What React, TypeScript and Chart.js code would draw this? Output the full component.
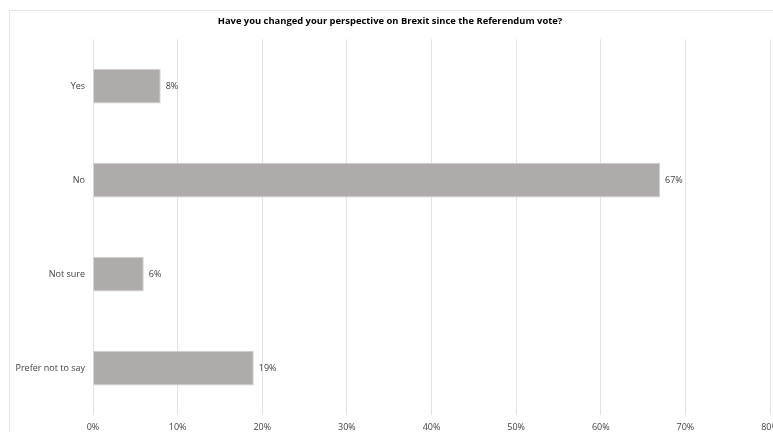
import React, { useEffect, useRef } from "react";
import { Chart, registerables } from "chart.js";

Chart.register(...registerables);

const TITLE = "Have you changed your perspective on Brexit since the Referendum vote?";
const categories = ["Yes", "No", "Not sure", "Prefer not to say"];
const values = [8, 67, 6, 19];
const xMin = 0;
const xMax = 80;
const xStep = 10;

const FONT = "'Open Sans', 'Liberation Sans', sans-serif";

const barLabels = {
  id: "barLabels",
  afterDatasetsDraw(chart: any) {
    const ctx = chart.ctx;
    const meta = chart.getDatasetMeta(0);
    ctx.save();
    ctx.font = `9px ${FONT}`;
    ctx.fillStyle = "#404040";
    ctx.textAlign = "left";
    ctx.textBaseline = "middle";
    meta.data.forEach((bar: any, i: number) => {
      ctx.fillText(values[i] + "%", bar.x + 5, bar.y);
    });
    ctx.restore();
  },
};

export default function App() {
  const ref = useRef<HTMLCanvasElement | null>(null);
  useEffect(() => {
    if (!ref.current) return;
    const chart = new Chart(ref.current, {
      type: "bar",
      data: {
        labels: categories,
        datasets: [
          {
            data: values,
            backgroundColor: "#afabab",
            borderColor: "#d2cfcf",
            borderWidth: 1,
            barPercentage: 0.37,
            categoryPercentage: 1,
          },
        ],
      },
      options: {
        indexAxis: "y",
        animation: false,
        responsive: false,
        maintainAspectRatio: false,
        layout: { padding: { left: 0, right: 4, top: 0, bottom: 0 } },
        plugins: {
          legend: { display: false },
          tooltip: { enabled: false },
          title: {
            display: true,
            text: TITLE,
            color: "#000000",
            font: { family: FONT, size: 9.4, weight: "bold" },
            padding: { top: 5, bottom: 12 },
          },
        },
        scales: {
          x: {
            min: xMin,
            max: xMax,
            ticks: {
              stepSize: xStep,
              color: "#404040",
              font: { family: FONT, size: 9 },
              padding: 7,
              maxRotation: 0,
              callback: (v: any) => v + "%",
            },
            grid: { color: "#e2e2e2", drawTicks: false },
            border: { display: false },
            afterFit: (scale: any) => {
              scale.height = 36;
              scale.paddingLeft = 0;
              scale.paddingRight = 0;
            },
          },
          y: {
            ticks: {
              color: "#404040",
              font: { family: FONT, size: 9 },
              padding: 8,
            },
            grid: { display: false, drawTicks: false },
            border: { display: false },
            afterFit: (scale: any) => {
              scale.width = 83;
              scale.paddingTop = 0;
              scale.paddingBottom = 0;
            },
          },
        },
      },
      plugins: [barLabels],
    });
    return () => chart.destroy();
  }, []);

  return (
    <div
      style={{
        position: "absolute",
        left: 0,
        top: 0,
        width: 773,
        height: 432,
        overflow: "hidden",
        background: "#ffffff",
      }}
    >
      <div
        style={{
          position: "absolute",
          left: 9,
          top: 10,
          width: 764,
          height: 440,
          border: "1px solid #e6e6e6",
        }}
      >
        <canvas ref={ref} width={764} height={440} style={{ display: "block", width: 764, height: 440 }} />
      </div>
    </div>
  );
}
